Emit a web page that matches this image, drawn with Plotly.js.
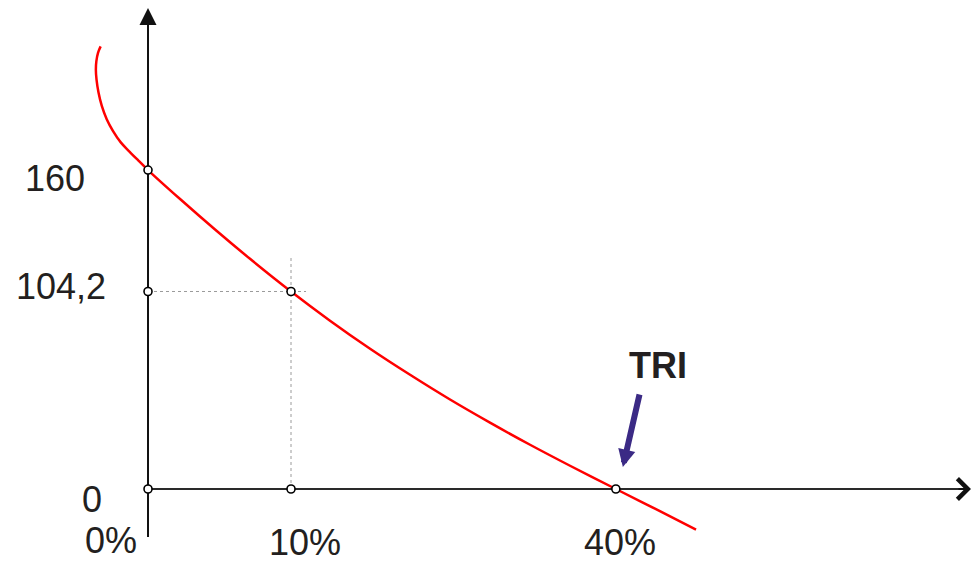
<!DOCTYPE html>
<html>
<head>
<meta charset="utf-8">
<script src="https://cdn.plot.ly/plotly-3.0.1.min.js"></script>
<style>html,body{margin:0;padding:0;background:#fff;}#chart{width:972px;height:562px;}</style>
</head>
<body>
<div id="chart"></div>
<script>
// ---- data ----
// discount rate (%) along the NPV curve
const rates = [-2.96, -3.12, -3.22, -3.25, -3.21, -3.09, -2.89, -2.59, -2.20, -1.71, -1.18, -0.61, 0, 2.10, 4.48, 6.96, 10, 13.03, 16.29, 19.70, 23.27, 27.01, 30.94, 35.05, 40, 44.56, 49.33];
// NPV at each rate
const npv = [211.1, 208.6, 205.3, 201.9, 197.9, 192.7, 187.2, 181.7, 176.7, 171.8, 168.0, 164.1, 160, 147.2, 133.4, 119.8, 104.2, 89.9, 75.8, 62.4, 49.4, 37.0, 24.9, 13.2, 0, -11.7, -23.7];
// highlighted points
const pointRates = [0, 0, 0, 10, 10, 40];
const pointNpv = [160, 104.2, 0, 104.2, 0, 0];
// tick labels
const xTickVals = [0, 10, 40];
const xTickText = ['0%', '10%', '40%'];
const yTickVals = [0, 104.2, 160];
const yTickText = ['0', '104,2', '160'];
const irrRate = 40;
const irrLabel = 'TRI';

// ---- scale (the drawing uses a non-uniform schematic scale) ----
const X_OFF = 55, Y_REF = 665;
const tx = r => r + X_OFF;
const ty = v => Y_REF - v;
const lx = r => Math.log10(tx(r));
const ly = v => Math.log10(ty(v));

const FONT = 'Liberation Sans, Arial, Helvetica, sans-serif';
const TXT = '#231f20';

const traces = [
  // dotted guides for the 10% point
  {x: [0, 11.15].map(tx), y: [104.2, 104.2].map(ty), mode: 'lines',
   line: {color: '#9a9a9a', width: 1, dash: 'dot'}, hoverinfo: 'skip'},
  {x: [10, 10].map(tx), y: [0, 121.1].map(ty), mode: 'lines',
   line: {color: '#9a9a9a', width: 1, dash: 'dot'}, hoverinfo: 'skip'},
  // axes
  {x: [0, 0].map(tx), y: [-28.1, 220].map(ty), mode: 'lines',
   line: {color: '#111', width: 2}, hoverinfo: 'skip'},
  {x: [0, 88.6].map(tx), y: [0, 0].map(ty), mode: 'lines',
   line: {color: '#2a2a2a', width: 2}, hoverinfo: 'skip'},
  // NPV curve
  {x: rates.map(tx), y: npv.map(ty), mode: 'lines',
   line: {color: '#ff0000', width: 2.5, shape: 'spline', smoothing: 1}, hoverinfo: 'skip'},
  // points
  {x: pointRates.map(tx), y: pointNpv.map(ty), mode: 'markers',
   marker: {symbol: 'circle', size: 8, color: '#ffffff', line: {color: '#000', width: 1.6}},
   cliponaxis: false, hoverinfo: 'skip'}
];

const annotations = [];
// y labels
const yShift = [[-44, -10], [-40, 5], [-61, -8]];
yTickVals.forEach((v, i) => {
  annotations.push({x: lx(0), y: ly(v), xref: 'x', yref: 'y', text: yTickText[i],
    showarrow: false, xanchor: 'right', yanchor: 'middle',
    xshift: yShift[i][0], yshift: yShift[i][1],
    font: {family: FONT, size: 36, color: TXT}});
});
// x labels
const xShift = [[-37, -51], [14, -53], [4, -53]];
xTickVals.forEach((r, i) => {
  annotations.push({x: lx(r), y: ly(0), xref: 'x', yref: 'y', text: xTickText[i],
    showarrow: false, xanchor: 'center', yanchor: 'middle',
    xshift: xShift[i][0], yshift: xShift[i][1],
    font: {family: FONT, size: 36, color: TXT}});
});
// axis arrowheads
annotations.push({x: lx(0), y: ly(225.9), xref: 'x', yref: 'y', text: '', showarrow: true,
  ax: 0, ay: 20, arrowhead: 2, arrowsize: 1.7, arrowwidth: 2, arrowcolor: '#111', standoff: 0});
annotations.push({x: lx(88.85), y: ly(0), xref: 'x', yref: 'y', text: '', showarrow: true,
  ax: -14, ay: 0, arrowhead: 4, arrowsize: 2, arrowwidth: 2, arrowcolor: '#111', standoff: 0});
// TRI label and arrow
annotations.push({x: lx(irrRate), y: ly(0), xref: 'x', yref: 'y', text: '<b>' + irrLabel + '</b>',
  showarrow: false, xanchor: 'center', yanchor: 'middle', xshift: 42, yshift: 124,
  font: {family: FONT, size: 36, color: TXT}});
annotations.push({x: lx(irrRate), y: ly(0), xref: 'x', yref: 'y', text: '', showarrow: true,
  xshift: 7, yshift: 22, ax: 17, ay: -74, arrowhead: 2, arrowsize: 0.58, arrowwidth: 6,
  arrowcolor: '#3b2a85', standoff: 0});

const layout = {
  width: 972, height: 562,
  margin: {l: 0, r: 0, t: 0, b: 0, pad: 0},
  paper_bgcolor: '#ffffff', plot_bgcolor: '#ffffff',
  showlegend: false,
  xaxis: {type: 'log', range: [1.66527, 2.15842], showgrid: false, zeroline: false,
    showticklabels: false, showline: false, ticks: '', fixedrange: true},
  yaxis: {type: 'log', range: [2.85018, 2.63957], showgrid: false, zeroline: false,
    showticklabels: false, showline: false, ticks: '', fixedrange: true},
  annotations: annotations
};

Plotly.newPlot('chart', traces, layout, {displayModeBar: false, staticPlot: true});
</script>
</body>
</html>
